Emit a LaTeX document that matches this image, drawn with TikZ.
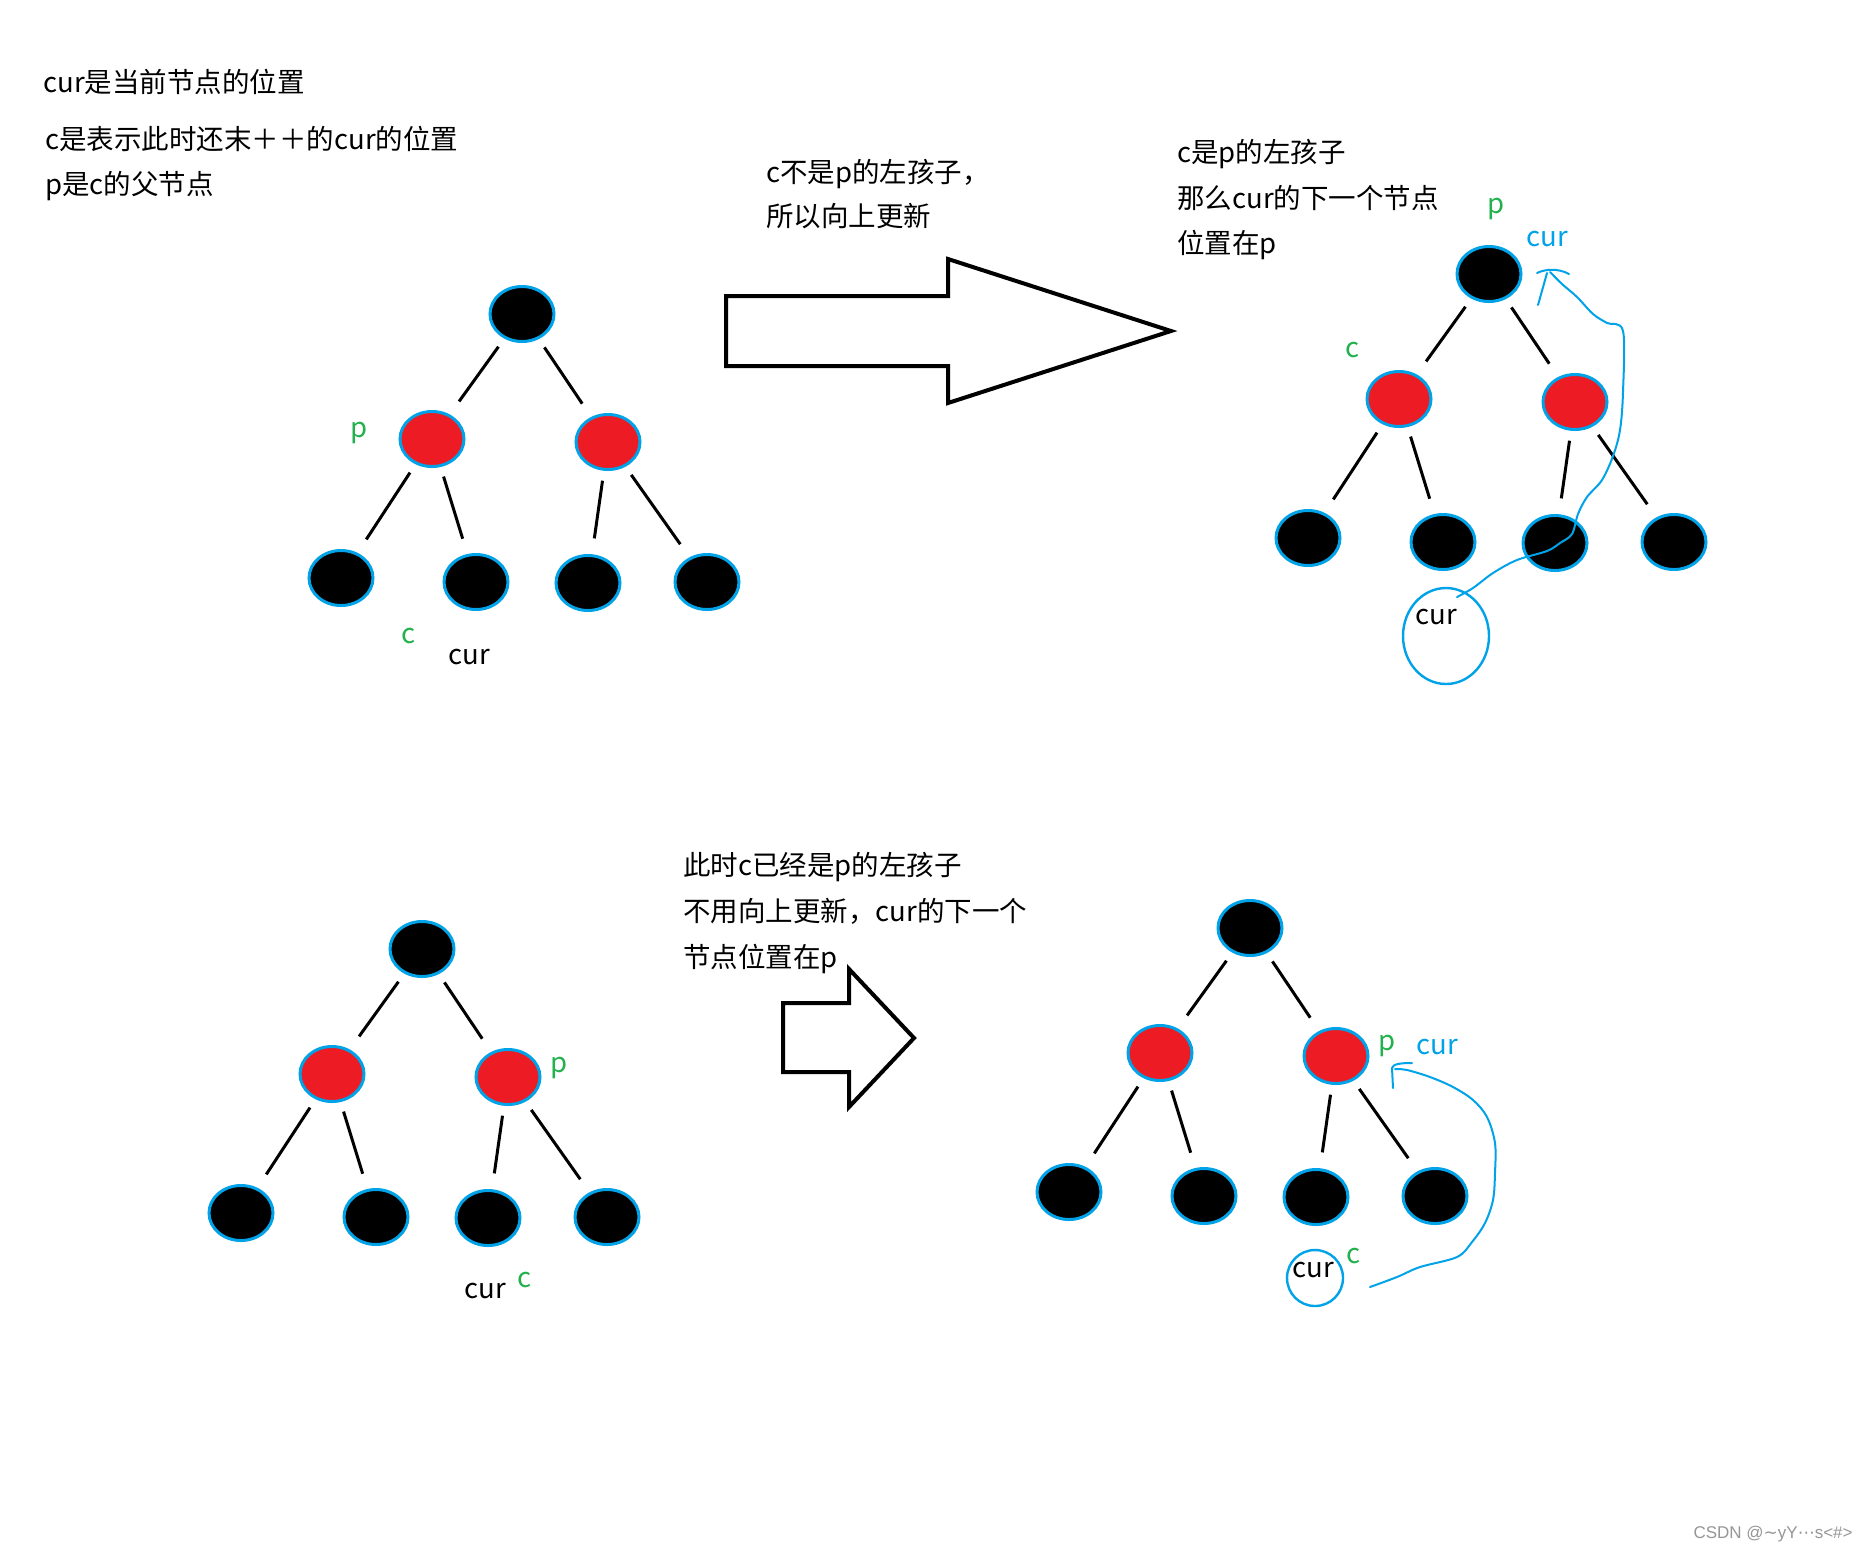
\documentclass[tikz,border=0pt]{standalone}
\usepackage{fontspec}
\setmainfont{Noto Sans CJK SC}
\newfontfamily\wmfont{Liberation Sans}
\newfontfamily\dejavu{DejaVu Sans}
\usetikzlibrary{shapes.geometric}
\definecolor{pblue}{RGB}{0,162,232}
\definecolor{pred}{RGB}{237,28,36}
\definecolor{pgreen}{RGB}{34,177,76}
\definecolor{wmgray}{RGB}{150,150,150}
\newcommand\stdtree[1]{%
  \node[bnode] (#1r) at (522,314) {};
  \node[rnode] (#1a) at (432,439) {};
  \node[rnode] (#1b) at (608,442) {};
  \node[bnode] (#1a1) at (341,578) {};
  \node[bnode] (#1a2) at (476,582) {};
  \node[bnode] (#1b1) at (588,583) {};
  \node[bnode] (#1b2) at (707,582) {};
  \draw[tedge] (#1r) -- (#1a);
  \draw[tedge] (#1r) -- (#1b);
  \draw[tedge] (#1a) -- (#1a1);
  \draw[tedge] (#1a) -- (#1a2);
  \draw[tedge] (#1b) -- (#1b1);
  \draw[tedge] (#1b) -- (#1b2);
}
\begin{document}
\begin{tikzpicture}[x=0.5pt,y=-0.5pt,
  bnode/.style={ellipse, draw=pblue, line width=1.5pt, fill=black, minimum width=32pt, minimum height=27.5pt, inner sep=0pt},
  rnode/.style={bnode, fill=pred},
  tedge/.style={line width=1.5pt, shorten <=5pt, shorten >=8pt},
  txt/.style={anchor=base west, inner sep=0pt, font=\fontsize{13.75pt}{16pt}\selectfont},
  lbl/.style={anchor=base, inner sep=0pt, font=\fontsize{13.75pt}{16pt}\selectfont},
  bigarrow/.style={draw=black, line width=2pt, line join=miter},
  hand/.style={draw=pblue, line width=1pt, line cap=round, line join=round},
  curcirc/.style={ellipse, draw=pblue, line width=1.2pt, inner sep=0pt}
]
\useasboundingbox (0,0) rectangle (1868,1549);
\fill[white] (0,0) rectangle (1868,1549);

% ---------- texts ----------
\node[txt] (t1) at (43,92) {cur是当前节点的位置};
\node[txt] (t2) at (45,149) {c是表示此时还末＋＋的cur的位置};
\node[txt] (t3) at (45,194) {p是c的父节点};

\node[txt] (u1) at (766,182) {c不是p的左孩子，};
\node[txt] (u2) at (766,226) {所以向上更新};

\node[txt] (v1) at (1177,162) {c是p的左孩子};
\node[txt] (v2) at (1177,208) {那么cur的下一个节点};
\node[txt] (v3) at (1177,253) {位置在p};

\node[txt] (w1) at (683,875) {此时c已经是p的左孩子};
\node[txt] (w2) at (683,921) {不用向上更新，cur的下一个};
\node[txt] (w3) at (683,967) {节点位置在p};

% ---------- big arrows ----------
\draw[bigarrow] (726,296) -- (948,296) -- (948,259) -- (1171,331) -- (948,403) -- (948,366) -- (726,366) -- cycle;
\draw[bigarrow] (783,1003) -- (849,1003) -- (849,969) -- (914,1038) -- (849,1107) -- (849,1072) -- (783,1072) -- cycle;

% ---------- tree 1 (top left) ----------
\stdtree{A}
\node[lbl, text=pgreen] (Ap) at (359,437) {p};
\node[lbl, text=pgreen] (Ac) at (409,643) {c};
\node[lbl] (Acur) at (469,664) {cur};

% ---------- tree 2 (top right) ----------
\begin{scope}[shift={(967,-40)}]
\stdtree{B}
\end{scope}
\node[lbl, text=pgreen] (Bp) at (1496,213) {p};
\node[lbl, text=pblue] (Bcurb) at (1547,246) {cur};
\node[lbl, text=pgreen] (Bc) at (1352,357) {c};
\node[curcirc, minimum width=43pt, minimum height=48pt] (Bcirc) at (1446,636) {};
\node[lbl] (Bcur) at (1436,624) {cur};
\draw[hand] plot[smooth, tension=0.55] coordinates {(1457,597) (1473,588) (1493,573) (1517,560) (1547,551) (1560,543) (1572,534) (1578,514) (1587,497) (1602,480) (1613,456) (1620,430) (1623,392) (1623,331) (1607,323) (1593,314) (1577,297) (1562,284) (1550,272)};
\draw[hand] (1538,305) -- (1547,273);
\draw[hand] (1537,273) .. controls (1545,269) and (1558,268) .. (1569,274);

% ---------- tree 3 (bottom left) ----------
\begin{scope}[shift={(-100,635)}]
\stdtree{C}
\end{scope}
\node[lbl, text=pgreen] (Cp) at (559,1072) {p};
\node[lbl, text=pgreen] (Cc) at (525,1287) {c};
\node[lbl] (Ccur) at (485,1298) {cur};

% ---------- tree 4 (bottom right) ----------
\begin{scope}[shift={(728,614)}]
\stdtree{D}
\end{scope}
\node[lbl, text=pgreen] (Dp) at (1387,1050) {p};
\node[lbl, text=pblue] (Dcurb) at (1437,1054) {cur};
\node[curcirc, minimum width=28pt, minimum height=28pt] (Dcirc) at (1315,1278) {};
\node[lbl] (Dcur) at (1313,1277) {cur};
\node[lbl, text=pgreen] (Dc) at (1353,1263) {c};
\draw[hand] plot[smooth, tension=0.55] coordinates {(1370,1287) (1397,1277) (1420,1267) (1457,1257) (1472,1242) (1485,1223) (1493,1200) (1495,1173) (1495,1143) (1487,1117) (1473,1100) (1453,1087) (1430,1077) (1407,1070) (1395,1069)};
\draw[hand] (1393,1088) -- (1392,1068) .. controls (1393,1064) and (1400,1063) .. (1412,1063);

% ---------- watermark ----------
\node[anchor=base east, inner sep=0pt, text=wmgray, font=\wmfont\fontsize{8.5pt}{10pt}\selectfont] (wm) at (1853,1538) {CSDN @{\dejavu ∼}yY{\dejavu ⋯}s<\#>};
\end{tikzpicture}
\end{document}
